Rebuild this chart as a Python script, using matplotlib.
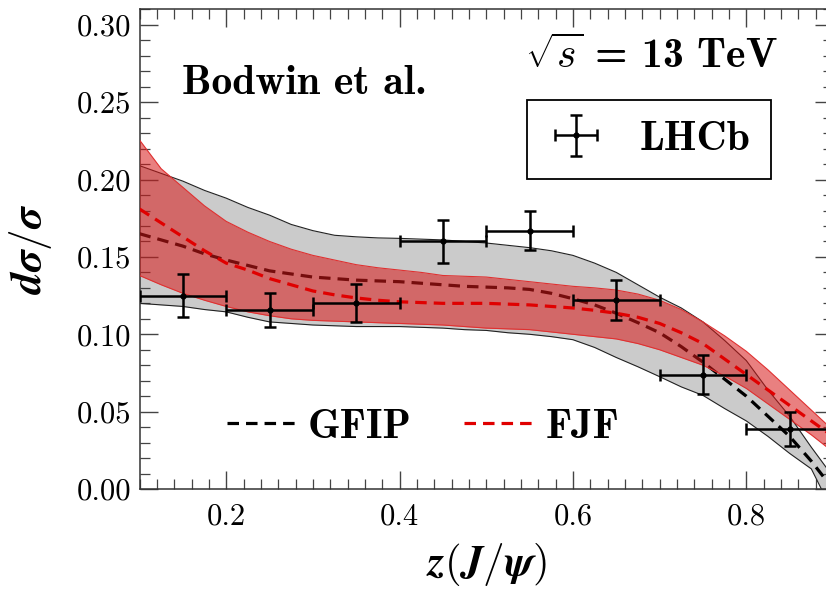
import numpy as np
import matplotlib
matplotlib.use("Agg")
import matplotlib.pyplot as plt
from matplotlib.ticker import MultipleLocator, FixedLocator, FixedFormatter

plt.rcParams['mathtext.fontset'] = 'cm'

# ---- data ----
z_grid = [0.100, 0.125, 0.150, 0.175, 0.200, 0.225, 0.250, 0.275, 0.300, 0.325, 0.350,
          0.375, 0.400, 0.425, 0.450, 0.475, 0.500, 0.525, 0.550, 0.575, 0.600, 0.625,
          0.650, 0.675, 0.700, 0.725, 0.750, 0.775, 0.800, 0.825, 0.850, 0.875, 0.900]
gfip_up = [0.209, 0.204, 0.199, 0.193, 0.188, 0.182, 0.177, 0.171, 0.167, 0.164, 0.163,
           0.1623, 0.162, 0.1615, 0.161, 0.160, 0.159, 0.1575, 0.156, 0.154, 0.151, 0.146,
           0.140, 0.132, 0.124, 0.117, 0.108, 0.096, 0.083, 0.064, 0.047, 0.027, 0.008]
gfip_lo = [0.120, 0.119, 0.118, 0.116, 0.1145, 0.111, 0.108, 0.107, 0.106, 0.1055, 0.105,
           0.105, 0.105, 0.1045, 0.104, 0.103, 0.1025, 0.101, 0.100, 0.0985, 0.0965, 0.0915,
           0.085, 0.079, 0.0726, 0.066, 0.0605, 0.052, 0.044, 0.034, 0.023, 0.013, -0.015]
gfip_c = [0.165, 0.161, 0.157, 0.152, 0.148, 0.1445, 0.141, 0.139, 0.137, 0.136, 0.135,
          0.1345, 0.134, 0.133, 0.132, 0.131, 0.1305, 0.130, 0.129, 0.1265, 0.123, 0.119,
          0.1136, 0.1075, 0.101, 0.092, 0.082, 0.071, 0.060, 0.047, 0.034, 0.018, 0.000]
fjf_up = [0.2256, 0.207, 0.195, 0.183, 0.173, 0.166, 0.160, 0.155, 0.151, 0.148, 0.145,
          0.143, 0.1415, 0.140, 0.138, 0.1375, 0.137, 0.1355, 0.134, 0.1325, 0.131, 0.130,
          0.1286, 0.126, 0.122, 0.116, 0.108, 0.099, 0.089, 0.077, 0.064, 0.051, 0.038]
fjf_lo = [0.138, 0.132, 0.1265, 0.122, 0.118, 0.1145, 0.112, 0.110, 0.109, 0.1085, 0.108,
          0.1075, 0.107, 0.1065, 0.106, 0.105, 0.104, 0.1035, 0.103, 0.1015, 0.100, 0.0985,
          0.097, 0.094, 0.090, 0.085, 0.080, 0.073, 0.065, 0.055, 0.045, 0.035, 0.024]
fjf_c = [0.181, 0.172, 0.163, 0.154, 0.146, 0.1415, 0.136, 0.132, 0.128, 0.1255, 0.1235,
         0.122, 0.121, 0.1205, 0.120, 0.120, 0.120, 0.1195, 0.119, 0.118, 0.117, 0.1155,
         0.1136, 0.111, 0.107, 0.101, 0.094, 0.084, 0.074, 0.064, 0.054, 0.044, 0.034]

lhcb_z = [0.15, 0.25, 0.35, 0.45, 0.55, 0.65, 0.75, 0.85]
lhcb_zerr = [0.05, 0.05, 0.05, 0.05, 0.05, 0.05, 0.05, 0.05]
lhcb_y = [0.125, 0.116, 0.120, 0.160, 0.167, 0.122, 0.074, 0.039]
lhcb_yerr = [0.014, 0.011, 0.0123, 0.014, 0.0127, 0.013, 0.0127, 0.011]

xticks = [0.2, 0.4, 0.6, 0.8]
xticklabels = ['0.2', '0.4', '0.6', '0.8']
yticks = [0.00, 0.05, 0.10, 0.15, 0.20, 0.25, 0.30]
yticklabels = ['0.00', '0.05', '0.10', '0.15', '0.20', '0.25', '0.30']

# ---- figure ----
W, H = 826, 595
fig = plt.figure(figsize=(W / 100, H / 100), dpi=100)
ax = fig.add_axes([139.5 / W, 106 / H, (833 - 139.5) / W, 479.6 / H])

ax.fill_between(z_grid, gfip_lo, gfip_up, color='#cbcbcb', lw=0, zorder=1)
ax.plot(z_grid, gfip_up, color='#222222', lw=0.8, zorder=2)
ax.plot(z_grid, gfip_lo, color='#222222', lw=0.8, zorder=2)
l_gfip, = ax.plot(z_grid, gfip_c, color='black', lw=2.3, dashes=(3.6, 2.2), zorder=3)

ax.fill_between(z_grid, fjf_lo, fjf_up, color='#d81818', alpha=0.55, lw=0, zorder=4)
ax.plot(z_grid, fjf_up, color='#e03030', lw=0.8, zorder=4)
ax.plot(z_grid, fjf_lo, color='#e03030', lw=0.8, zorder=4)
l_fjf, = ax.plot(z_grid, fjf_c, color='#e00000', lw=2.3, dashes=(3.6, 2.2), zorder=5)

eb = ax.errorbar(lhcb_z, lhcb_y, xerr=lhcb_zerr, yerr=lhcb_yerr, fmt='o', ms=3.5,
                 color='black', ecolor='black', elinewidth=1.8, capsize=4.5,
                 capthick=1.8, zorder=6)

ax.set_xlim(0.1, 0.9)
ax.set_ylim(0.0, 0.31)

ax.xaxis.set_major_locator(FixedLocator(xticks))
ax.xaxis.set_major_formatter(FixedFormatter(xticklabels))
ax.yaxis.set_major_locator(FixedLocator(yticks))
ax.yaxis.set_major_formatter(FixedFormatter(yticklabels))
ax.xaxis.set_minor_locator(MultipleLocator(0.02))
ax.yaxis.set_minor_locator(MultipleLocator(0.01))
for lab in ax.get_xticklabels() + ax.get_yticklabels():
    lab.set_fontfamily('cmr10')
    lab.set_fontsize(22)
ax.tick_params(which='both', direction='in', top=True, right=True, color='#444444')
ax.tick_params(which='major', length=13, width=1.0, pad=10)
ax.tick_params(which='minor', length=7, width=0.9)
ax.tick_params(axis='y', which='major', pad=6)
for s in ax.spines.values():
    s.set_color('#333333')
    s.set_linewidth(1.1)

ax.set_xlabel(r'$\boldsymbol{z(J/\psi)}$', fontsize=31, labelpad=8)
ax.set_ylabel(r'$\boldsymbol{d\sigma/\sigma}$', fontsize=31, labelpad=16)

ax.text(0.1487, 0.2553, 'Bodwin et al.', family='cmb10', fontsize=30,
        ha='left', va='baseline', zorder=7)
ax.text(0.690, 0.272, r'$\boldsymbol{\sqrt{s}}$ = 13 TeV', family='cmb10', fontsize=30,
        ha='center', va='baseline', zorder=7)

leg1 = ax.legend([eb], ['LHCb'], loc='center', bbox_to_anchor=(0.7345, 0.729),
                 prop=dict(family='cmb10', size=30), frameon=True, fancybox=False,
                 edgecolor='black', framealpha=1, handlelength=1.35, borderpad=0.5,
                 handletextpad=0.85)
leg1.get_frame().set_linewidth(1.3)
ax.add_artist(leg1)

ax.legend([l_gfip, l_fjf], ['GFIP', 'FJF'], loc='center', bbox_to_anchor=(0.4085, 0.129),
          ncol=2, prop=dict(family='cmb10', size=30), frameon=False,
          handlelength=1.7, handletextpad=0.25, columnspacing=1.25)

fig.savefig('out.png', dpi=100)
